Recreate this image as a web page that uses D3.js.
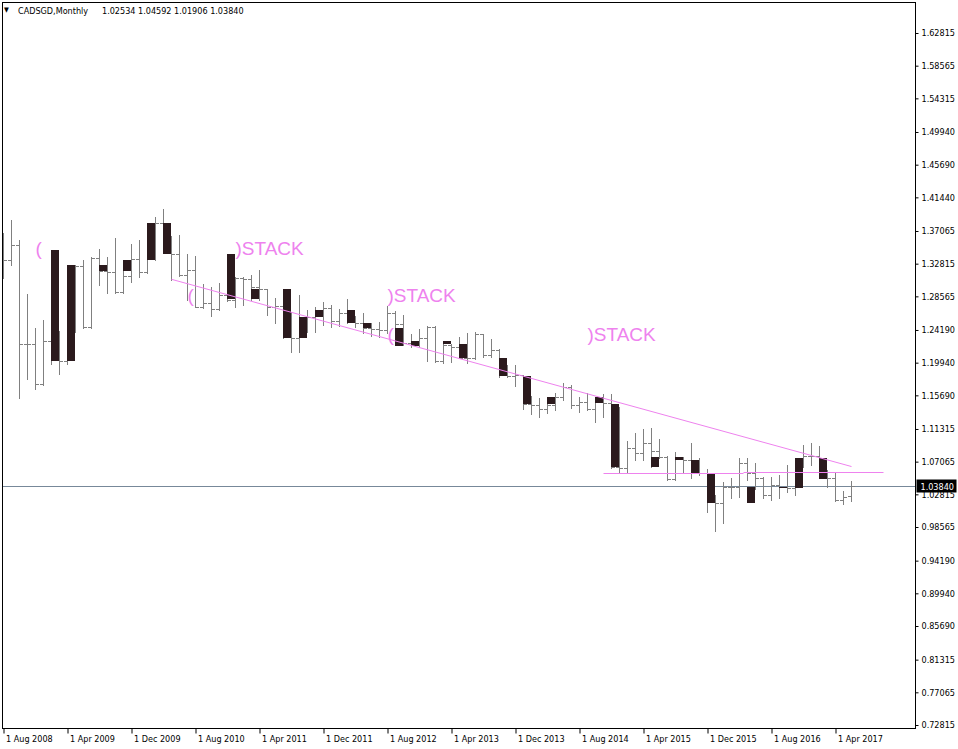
<!DOCTYPE html>
<html>
<head>
<meta charset="utf-8">
<script src="https://cdn.jsdelivr.net/npm/d3@7"></script>
<style>
  body { margin: 0; background: #fff; }
  text { font-family: "DejaVu Sans Condensed", "DejaVu Sans", sans-serif; }
</style>
</head>
<body>
<div id="chart"></div>
<script>
// monthly bars, Aug 2008 .. Jun 2017
var symbol = "CADSGD,Monthly";
var firstMonth = new Date(2008, 7, 1);

var opens = [1.3524, 1.3329, 1.3524, 1.2233, 1.2233, 1.1713, 1.2276, 1.2185, 1.2016, 1.2397,
  1.3255, 1.2462, 1.3351, 1.3190, 1.3177, 1.2917, 1.3121, 1.3338, 1.3177, 1.3351,
  1.3806, 1.3459, 1.3403, 1.3134, 1.3199, 1.2722, 1.2766, 1.2688, 1.2874, 1.2809,
  1.3091, 1.3082, 1.2978, 1.2948, 1.2722, 1.2731, 1.2324, 1.2311, 1.2441, 1.2592,
  1.2601, 1.2701, 1.2536, 1.2636, 1.2588, 1.2506, 1.2441, 1.2428, 1.2419, 1.2644,
  1.2493, 1.2246, 1.2267, 1.2311, 1.2462, 1.2016, 1.2224, 1.2202, 1.2058, 1.2051,
  1.2363, 1.2094, 1.2159, 1.1921, 1.1820, 1.1833, 1.1452, 1.1443, 1.1387, 1.1443,
  1.1551, 1.1681, 1.1443, 1.1486, 1.1387, 1.1508, 1.1465, 1.0641, 1.0620, 1.0880,
  1.0823, 1.0945, 1.0845, 1.0763, 1.0477, 1.0737, 1.0728, 1.0728, 1.0555, 1.0251,
  1.0165, 1.0373, 1.0373, 1.0693, 1.0555, 1.0494, 1.0269, 1.0403, 1.0381, 1.0360,
  1.0676, 1.0780, 1.0780, 1.0598, 1.0498, 1.0208, 1.02534];
var highs = [1.3676, 1.3849, 1.3589, 1.2883, 1.2441, 1.2549, 1.2397, 1.2406, 1.2497, 1.3264,
  1.3329, 1.3372, 1.3472, 1.3372, 1.3611, 1.3329, 1.3533, 1.3589, 1.3611, 1.3885,
  1.3992, 1.3641, 1.3654, 1.3403, 1.3381, 1.3017, 1.2982, 1.3026, 1.3121, 1.3112,
  1.3108, 1.3134, 1.3199, 1.2948, 1.2835, 1.2852, 1.2657, 1.2874, 1.2679, 1.2714,
  1.2787, 1.2744, 1.2688, 1.2818, 1.2600, 1.2636, 1.2506, 1.2519, 1.2731, 1.2670,
  1.2614, 1.2363, 1.2428, 1.2471, 1.2471, 1.2267, 1.2235, 1.2332, 1.2376, 1.2397,
  1.2370, 1.2298, 1.2168, 1.1964, 1.1964, 1.1840, 1.1560, 1.1530, 1.1543, 1.1603,
  1.1725, 1.1703, 1.1551, 1.1603, 1.1530, 1.1586, 1.1586, 1.1420, 1.0979, 1.1083,
  1.1127, 1.1140, 1.0997, 1.0780, 1.0836, 1.0771, 1.0945, 1.0750, 1.0607, 1.0273,
  1.0446, 1.0490, 1.0750, 1.0750, 1.0685, 1.0505, 1.0511, 1.0533, 1.0663, 1.0685,
  1.0923, 1.0945, 1.0910, 1.0600, 1.0555, 1.0329, 1.04592];
var lows = [1.3091, 1.3264, 1.1530, 1.1781, 1.1648, 1.1703, 1.1973, 1.1843, 1.1973, 1.2397,
  1.2449, 1.2440, 1.3004, 1.2904, 1.2896, 1.2905, 1.3047, 1.3112, 1.3160, 1.3329,
  1.3440, 1.3069, 1.3121, 1.2809, 1.2714, 1.2701, 1.2601, 1.2679, 1.2795, 1.2722,
  1.2744, 1.2809, 1.2809, 1.2614, 1.2506, 1.2319, 1.2136, 1.2136, 1.2397, 1.2397,
  1.2484, 1.2462, 1.2471, 1.2506, 1.2454, 1.2376, 1.2341, 1.2332, 1.2376, 1.2224,
  1.2224, 1.2194, 1.2202, 1.2016, 1.2006, 1.1986, 1.2006, 1.2051, 1.1993, 1.2045,
  1.2071, 1.2071, 1.1804, 1.1804, 1.1690, 1.1387, 1.1322, 1.1283, 1.1335, 1.1378,
  1.1508, 1.1400, 1.1356, 1.1378, 1.1218, 1.1283, 1.0630, 1.0576, 1.0555, 1.0728,
  1.0728, 1.0641, 1.0750, 1.0465, 1.0468, 1.0555, 1.0498, 1.0533, 1.0055, 0.9808,
  0.9912, 1.0230, 1.0251, 1.0468, 1.0347, 1.0230, 1.0208, 1.0230, 1.0316, 1.0273,
  1.0641, 1.0663, 1.0511, 1.0381, 1.0199, 1.0156, 1.01906];
var closes = [1.3329, 1.3524, 1.2233, 1.2233, 1.1713, 1.2276, 1.2185, 1.2016, 1.2397, 1.3255,
  1.2462, 1.3351, 1.3190, 1.3177, 1.2917, 1.3121, 1.3338, 1.3177, 1.3351, 1.3806,
  1.3459, 1.3403, 1.3134, 1.3199, 1.2722, 1.2766, 1.2688, 1.2874, 1.2809, 1.3091,
  1.3082, 1.2978, 1.2948, 1.2722, 1.2731, 1.2324, 1.2311, 1.2441, 1.2592, 1.2601,
  1.2701, 1.2536, 1.2636, 1.2588, 1.2506, 1.2441, 1.2428, 1.2419, 1.2644, 1.2493,
  1.2246, 1.2267, 1.2311, 1.2462, 1.2016, 1.2224, 1.2202, 1.2058, 1.2051, 1.2363,
  1.2094, 1.2159, 1.1921, 1.1820, 1.1833, 1.1452, 1.1443, 1.1387, 1.1443, 1.1551,
  1.1681, 1.1443, 1.1486, 1.1387, 1.1508, 1.1465, 1.0641, 1.0620, 1.0880, 1.0823,
  1.0945, 1.0845, 1.0763, 1.0477, 1.0737, 1.0728, 1.0728, 1.0555, 1.0251, 1.0165,
  1.0373, 1.0373, 1.0693, 1.0555, 1.0494, 1.0269, 1.0403, 1.0381, 1.0360, 1.0676,
  1.0780, 1.0780, 1.0598, 1.0498, 1.0208, 1.0251, 1.03840];

// dark boxes of the "stack" indicator
var boxBar = [6, 8, 12, 15, 18, 20, 28, 31, 35, 37, 39, 43, 45, 49, 51, 55, 57, 62, 65, 68,
  74, 76, 81, 84, 86, 88, 93, 97, 99, 102];
var boxTop = [1.3459, 1.3264, 1.3264, 1.3329, 1.3806, 1.3806, 1.3407, 1.2952, 1.2952, 1.2592,
  1.2679, 1.2679, 1.2514, 1.2449, 1.2276, 1.2276, 1.2237, 1.2051, 1.1820, 1.1543,
  1.1543, 1.1456, 1.0763, 1.0763, 1.0728, 1.0555, 1.0381, 1.0381, 1.0754, 1.0754];
var boxBottom = [1.2019, 1.2019, 1.3190, 1.3190, 1.3329, 1.3407, 1.2818, 1.2818, 1.2321, 1.2321,
  1.2592, 1.2514, 1.2441, 1.2215, 1.2215, 1.2237, 1.2051, 1.1820, 1.1452, 1.1452,
  1.1465, 1.0641, 1.0641, 1.0728, 1.0555, 1.0173, 1.0173, 1.0368, 1.0368, 1.0481];

var trendBars = [21, 106];
var trendPrices = [1.3078, 1.0643];
var levelFrom = [75, 92.5];
var levelTo = [92.5, 110];
var levelPrice = [1.0555, 1.0572];

var noteText = ["(", ")STACK", "(", ")STACK", "(", ")STACK"];
var noteBar = [4, 29, 23, 48, 48, 73];
var notePrice = [1.3394, 1.3394, 1.2783, 1.2783, 1.2276, 1.2276];

var priceTicks = [1.62815, 1.58565, 1.54315, 1.49940, 1.45690, 1.41440, 1.37065, 1.32815,
  1.28565, 1.24190, 1.19940, 1.15690, 1.11315, 1.07065, 1.02815, 0.98565, 0.94190, 0.89940,
  0.85690, 0.81315, 0.77065, 0.72815];
var dateTicks = [0, 8, 16, 24, 32, 40, 48, 56, 64, 72, 80, 88, 96, 104];

var width = 958,
  height = 749;
var frameL = 2.5, frameT = 2.5, frameR = 915.5, frameB = 728.5;
var n = closes.length;
var last = n - 1;

var months = d3.timeMonth.range(firstMonth, d3.timeMonth.offset(firstMonth, n));
var fmt = d3.format(".5f");

var x = d3.scaleLinear().domain([0, last]).range([3.5, 3.5 + 8 * last]);
var y = d3.scaleLinear().domain([0.72815, 1.62815]).range([725, 33]);
var py = function(v) { return Math.round(y(v)) + 0.5; };

var svg = d3.select("#chart")
  .append("svg")
  .attr("width", width)
  .attr("height", height)
  .style("display", "block");

svg.append("rect").attr("width", width).attr("height", height).attr("fill", "#fff");

svg.append("clipPath").attr("id", "plotclip")
  .append("rect")
  .attr("x", frameL).attr("y", frameT)
  .attr("width", frameR - frameL).attr("height", frameB - frameT);

var g = svg.append("g").attr("clip-path", "url(#plotclip)");

// current price line
g.append("line")
  .attr("x1", frameL).attr("x2", frameR)
  .attr("y1", py(closes[last])).attr("y2", py(closes[last]))
  .attr("stroke", "#778899");

// OHLC bars
var bars = g.append("g").attr("stroke", "#808080").attr("stroke-width", 1);
bars.selectAll("line.hl")
  .data(closes)
  .join("line")
  .attr("class", "hl")
  .attr("x1", function(d, i) { return x(i); })
  .attr("x2", function(d, i) { return x(i); })
  .attr("y1", function(d, i) { return Math.round(y(highs[i])); })
  .attr("y2", function(d, i) { return Math.round(y(lows[i])) + 1; });
bars.selectAll("line.op")
  .data(opens)
  .join("line")
  .attr("class", "op")
  .attr("x1", function(d, i) { return x(i) - 3.5; })
  .attr("x2", function(d, i) { return x(i) - 0.5; })
  .attr("y1", function(d) { return py(d); })
  .attr("y2", function(d) { return py(d); });
bars.selectAll("line.cl")
  .data(closes)
  .join("line")
  .attr("class", "cl")
  .attr("x1", function(d, i) { return x(i) + 0.5; })
  .attr("x2", function(d, i) { return x(i) + 3.5; })
  .attr("y1", function(d) { return py(d); })
  .attr("y2", function(d) { return py(d); });

// indicator boxes
g.selectAll("rect.box")
  .data(boxBar)
  .join("rect")
  .attr("class", "box")
  .attr("x", function(d) { return x(d) - 0.5; })
  .attr("width", function(d) { return x(d + 1) - x(d); })
  .attr("y", function(d, i) { return Math.round(y(boxTop[i])); })
  .attr("height", function(d, i) { return Math.max(1, Math.round(y(boxBottom[i])) - Math.round(y(boxTop[i]))); })
  .attr("fill", "#2b1a1d");

// trend line + levels
g.append("line")
  .attr("x1", x(trendBars[0])).attr("y1", y(trendPrices[0]))
  .attr("x2", x(trendBars[1])).attr("y2", y(trendPrices[1]))
  .attr("stroke", "#ee82ee").attr("stroke-width", 1);

g.selectAll("line.level")
  .data(levelPrice)
  .join("line")
  .attr("class", "level")
  .attr("x1", function(d, i) { return x(levelFrom[i]); })
  .attr("x2", function(d, i) { return x(levelTo[i]); })
  .attr("y1", function(d) { return py(d); })
  .attr("y2", function(d) { return py(d); })
  .attr("stroke", "#ee82ee");

g.selectAll("text.note")
  .data(noteText)
  .join("text")
  .attr("class", "note")
  .attr("x", function(d, i) { return x(noteBar[i]); })
  .attr("y", function(d, i) { return y(notePrice[i]); })
  .attr("fill", "#ee82ee")
  .style("font-family", "'Liberation Sans', Arial, sans-serif")
  .style("font-size", "19px")
  .text(function(d) { return d; });

// frame
svg.append("rect")
  .attr("x", frameL).attr("y", frameT)
  .attr("width", frameR - frameL).attr("height", frameB - frameT)
  .attr("fill", "none").attr("stroke", "#000");

// price axis
var yAxis = svg.append("g")
  .attr("transform", "translate(" + frameR + ",0)")
  .call(d3.axisRight(y).tickValues(priceTicks).tickFormat(fmt).tickSize(3).tickPadding(3));
yAxis.select(".domain").remove();
yAxis.selectAll(".tick line").attr("stroke", "#000");
yAxis.selectAll("text").attr("fill", "#000").style("font-size", "9px");

// time axis
var xAxis = svg.append("g")
  .attr("transform", "translate(0," + frameB + ")")
  .call(d3.axisBottom(x).tickValues(dateTicks)
    .tickFormat(function(i) { return d3.timeFormat("%-d %b %Y")(months[i]); })
    .tickSize(5));
xAxis.select(".domain").remove();
xAxis.selectAll(".tick line").attr("stroke", "#000");
xAxis.selectAll("text")
  .attr("fill", "#000")
  .attr("text-anchor", "start")
  .attr("x", 2)
  .attr("y", 13)
  .attr("dy", 0)
  .style("font-size", "9px");

// last price marker
var lastY = py(closes[last]);
svg.append("rect")
  .attr("x", frameR + 1).attr("y", lastY - 7)
  .attr("width", 40).attr("height", 13)
  .attr("fill", "#000");
svg.append("text")
  .attr("x", frameR + 5).attr("y", lastY + 3.5)
  .attr("fill", "#fff")
  .style("font-size", "9px")
  .text(fmt(closes[last]));

// title
svg.append("text")
  .attr("x", 4).attr("y", 12)
  .style("font-size", "7px")
  .text("\u25BC");
svg.append("text")
  .attr("x", 18).attr("y", 14)
  .style("font-size", "9px")
  .text(symbol);
svg.append("text")
  .attr("x", 102).attr("y", 14)
  .style("font-size", "9px")
  .text([opens[last], highs[last], lows[last], closes[last]].map(fmt).join(" "));
</script>
</body>
</html>
